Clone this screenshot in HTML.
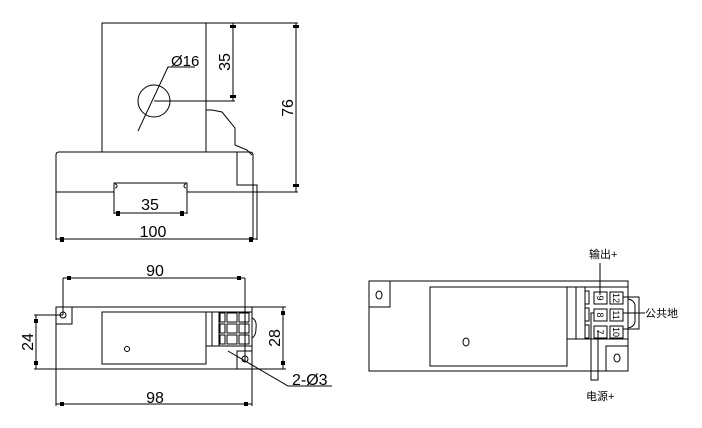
<!DOCTYPE html>
<html><head><style>
html,body{margin:0;padding:0;background:#fff;}
svg{display:block;}
text{font-family:"Liberation Sans","Noto Sans CJK SC",sans-serif;fill:#000;}
</style></head><body>
<svg width="702" height="428" viewBox="0 0 702 428" xmlns="http://www.w3.org/2000/svg">
<g stroke="#000" stroke-width="1" fill="none">
<!-- TOP VIEW -->
<rect x="102" y="23" width="104" height="129"/>
<line x1="206" y1="23" x2="298" y2="23"/>
<line x1="233" y1="23" x2="233" y2="101"/>
<line x1="154" y1="101" x2="235" y2="101"/>
<circle cx="154" cy="101" r="16"/>
<polyline points="138,131 168,67 195,67"/>
<line x1="296" y1="23" x2="296" y2="192"/>
<polyline points="206,110 212,110 222,112 235,128 235,145 247,150 252,155"/>
<path d="M56,240 V155 Q56,152 59,152 H250 Q253,152 253,155 V240"/>
<polyline points="237,152 237,185 253,185"/>
<rect x="253" y="185" width="4" height="7"/>
<line x1="56" y1="192" x2="114" y2="192"/>
<line x1="187" y1="192" x2="298" y2="192"/>
<polyline points="114,214 114,183 187,183 187,214"/>
<path d="M115,184 a2,2 0 0 1 0,4 M186,184 a2,2 0 0 0 0,4"/>
<line x1="114" y1="213" x2="187" y2="213"/>
<line x1="257" y1="192" x2="257" y2="240"/>
<line x1="56" y1="239" x2="257" y2="239"/>
<!-- BOTTOM LEFT VIEW -->
<rect x="56" y="307" width="196" height="62"/>
<rect x="56" y="307" width="16" height="17"/>
<circle cx="63" cy="315" r="3"/>
<rect x="102" y="312" width="104" height="52"/>
<circle cx="127" cy="349" r="2.5"/>
<polyline points="206,346 252,346"/>
<line x1="212" y1="312" x2="212" y2="346"/>
<line x1="219" y1="312" x2="219" y2="346"/>
<line x1="206" y1="312" x2="252" y2="312"/>
<rect x="220" y="313" width="5" height="9"/><rect x="220" y="324" width="5" height="9"/><rect x="220" y="335" width="5" height="9"/>
<rect x="227" y="313" width="10" height="9"/><rect x="239" y="313" width="10" height="9"/>
<rect x="227" y="324" width="10" height="9"/><rect x="239" y="324" width="10" height="9"/>
<rect x="227" y="335" width="10" height="9"/><rect x="239" y="335" width="10" height="9"/>
<path d="M252,318 Q257,320 256,328 Q256,336 252,338"/>
<rect x="237" y="351" width="15" height="18"/>
<circle cx="245" cy="359" r="3"/>
<line x1="63" y1="278" x2="245" y2="278"/>
<line x1="63" y1="278" x2="63" y2="315"/>
<line x1="245" y1="278" x2="245" y2="362"/>
<line x1="34" y1="315" x2="63" y2="315"/>
<line x1="34" y1="369" x2="56" y2="369"/>
<line x1="36" y1="315" x2="36" y2="369"/>
<line x1="252" y1="307" x2="286" y2="307"/>
<line x1="252" y1="369" x2="286" y2="369"/>
<line x1="283" y1="307" x2="283" y2="369"/>
<line x1="56" y1="369" x2="56" y2="406"/>
<line x1="252" y1="369" x2="252" y2="406"/>
<line x1="56" y1="404" x2="252" y2="404"/>
<polyline points="228,351 288,386 332,386"/>
<!-- RIGHT VIEW -->
<rect x="369" y="281" width="259" height="90"/>
<rect x="369" y="281" width="21" height="26"/>
<ellipse cx="379" cy="295" rx="3" ry="4"/>
<rect x="430" y="287" width="137" height="79"/>
<ellipse cx="466" cy="342" rx="3" ry="4"/>
<line x1="567" y1="287" x2="628" y2="287"/>
<line x1="576" y1="287" x2="576" y2="339"/>
<line x1="585" y1="287" x2="585" y2="339"/>
<line x1="567" y1="339" x2="628" y2="339"/>
<rect x="585" y="291" width="4" height="13"/><rect x="585" y="308" width="4" height="13"/><rect x="585" y="325" width="4" height="13"/>
<rect x="594" y="292" width="13" height="12"/><rect x="610" y="292" width="13" height="12"/>
<rect x="594" y="309" width="13" height="12"/><rect x="610" y="309" width="13" height="12"/>
<rect x="594" y="326" width="13" height="12"/><rect x="610" y="326" width="13" height="12"/>
<rect x="606" y="346" width="22" height="25"/>
<ellipse cx="617" cy="358" rx="3" ry="4"/>
<path d="M628,299 Q634,300 635,305 V322 Q634,327 628,328"/>
<polyline points="623,297 639,297 639,329 623,329"/>
<line x1="623" y1="313" x2="645" y2="313"/>
<line x1="600" y1="263" x2="600" y2="295"/>
<polyline points="594,313 591,313 591,380 598,380 598,330"/>
</g>
<g fill="#000">
<rect x="230" y="25" width="6" height="3"/><rect x="230" y="95" width="6" height="3"/>
<rect x="293" y="25" width="6" height="3"/><rect x="293" y="184" width="6" height="3"/>
<rect x="116" y="211" width="4" height="5"/><rect x="180" y="211" width="4" height="5"/>
<rect x="60" y="237" width="4" height="5"/><rect x="249" y="237" width="4" height="5"/>
<rect x="67" y="276" width="4" height="4"/><rect x="237" y="276" width="4" height="4"/>
<rect x="34" y="319" width="4" height="4"/><rect x="34" y="361" width="4" height="4"/>
<rect x="281" y="311" width="4" height="4"/><rect x="281" y="361" width="4" height="4"/>
<rect x="60" y="402" width="4" height="4"/><rect x="244" y="402" width="4" height="4"/>
</g>
<g font-size="16">
<text x="171" y="66" font-size="15">Ø16</text>
<text x="150" y="210" text-anchor="middle">35</text>
<text x="153" y="237" text-anchor="middle">100</text>
<text transform="translate(230,62) rotate(-90)" text-anchor="middle">35</text>
<text transform="translate(293,108) rotate(-90)" text-anchor="middle">76</text>
<text x="155" y="276" text-anchor="middle">90</text>
<text x="155" y="403" text-anchor="middle">98</text>
<text transform="translate(33,342) rotate(-90)" text-anchor="middle">24</text>
<text transform="translate(280,338) rotate(-90)" text-anchor="middle">28</text>
<text x="292" y="385">2-Ø3</text>
</g>
<g font-size="9">
<text transform="translate(597,298) rotate(90)" text-anchor="middle">9</text>
<text transform="translate(597,315) rotate(90)" text-anchor="middle">8</text>
<text transform="translate(597,332) rotate(90)" text-anchor="middle">7</text>
<text transform="translate(613,298) rotate(90)" text-anchor="middle">12</text>
<text transform="translate(613,315) rotate(90)" text-anchor="middle">11</text>
<text transform="translate(613,332) rotate(90)" text-anchor="middle">10</text>
</g>
<g font-size="11">
<text x="589" y="258">输出+</text>
<text x="645" y="317">公共地</text>
<text x="586" y="400">电源+</text>
</g>
</svg>
</body></html>
